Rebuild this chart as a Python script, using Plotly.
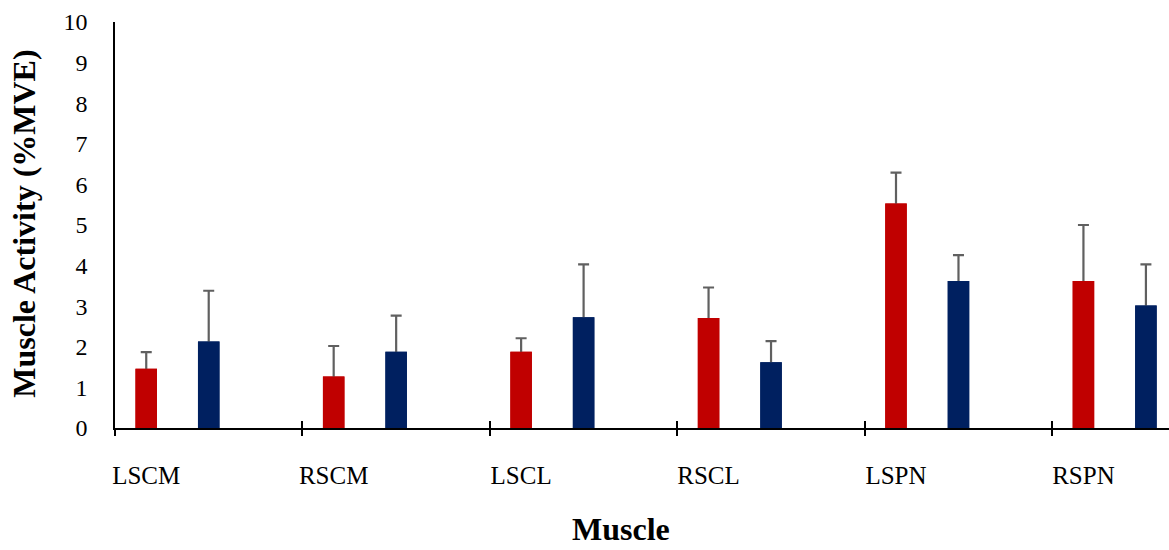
import plotly.graph_objects as go

# Muscle activity (%MVE) per muscle, two conditions, mean + SD
muscles = ["LSCM", "RSCM", "LSCL", "RSCL", "LSPN", "RSPN"]
red_mean = [1.46, 1.27, 1.88, 2.71, 5.53, 3.62]
red_sd = [0.41, 0.75, 0.33, 0.75, 0.76, 1.38]
blue_mean = [2.13, 1.88, 2.73, 1.62, 3.62, 3.02]
blue_sd = [1.25, 0.89, 1.30, 0.52, 0.64, 1.01]
y_ticks = list(range(0, 11))

RED = "#C00000"
BLUE = "#002060"
ERR = "#606060"
FONT = "Liberation Serif, Times New Roman, serif"

W, H = 1169, 550
ML, MR, MT, MB = 115, 0, 22, 121.5
slot_px = 187.44                      # width of one muscle slot on the axis
x_max = (W - ML - MR) / slot_px       # axis shows a bit more than 5.5 slots
bar_w = 21.5 / slot_px

idx = list(range(len(muscles)))
red_x = [i + 1 / 6 for i in idx]
blue_x = [i + 1 / 2 for i in idx]
bounds = list(range(len(muscles) + 1))

fig = go.Figure()


def add_series(xs, ys, sd, color):
    # bar with symmetric SD whisker
    fig.add_trace(go.Bar(
        x=xs, y=ys, width=bar_w, marker=dict(color=color, line=dict(width=0)),
        error_y=dict(type="data", array=sd, symmetric=True, color=ERR,
                     thickness=2.2, width=5.5),
        showlegend=False, hoverinfo="skip"))


def cover_series(xs, ys, color):
    # same bar redrawn on top so only the upper whisker remains visible
    fig.add_trace(go.Bar(
        x=xs, y=ys, width=bar_w, marker=dict(color=color, line=dict(width=0)),
        showlegend=False, hoverinfo="skip"))


add_series(red_x, red_mean, red_sd, RED)
add_series(blue_x, blue_mean, blue_sd, BLUE)
cover_series(red_x, red_mean, RED)
cover_series(blue_x, blue_mean, BLUE)

axis_common = dict(range=[0, x_max], showgrid=False, zeroline=False, fixedrange=True)

fig.update_layout(
    width=W, height=H,
    margin=dict(l=ML, r=MR, t=MT, b=MB, pad=0),
    paper_bgcolor="white", plot_bgcolor="white",
    barmode="overlay",
    font=dict(family=FONT, color="black"),
    xaxis=dict(
        **axis_common,
        tickmode="array", tickvals=red_x, ticktext=muscles,
        ticks="", ticklabelstandoff=24,
        tickfont=dict(family=FONT, size=25, color="black"),
        showline=True, linecolor="black", linewidth=1.5,
    ),
    xaxis2=dict(
        **axis_common, overlaying="x", anchor="y", side="bottom",
        tickmode="array", tickvals=bounds, showticklabels=False,
        ticks="outside", ticklen=7, tickwidth=1.5, tickcolor="black",
        showline=False,
    ),
    xaxis3=dict(
        **axis_common, overlaying="x", anchor="y", side="bottom",
        tickmode="array", tickvals=bounds, showticklabels=False,
        ticks="inside", ticklen=7, tickwidth=1.5, tickcolor="black",
        showline=False,
    ),
    yaxis=dict(
        range=[0, 10], tickmode="array", tickvals=y_ticks,
        ticks="", ticklabelstandoff=21,
        tickfont=dict(family=FONT, size=24, color="black"),
        showgrid=False, zeroline=False, showline=True,
        linecolor="black", linewidth=1.5, fixedrange=True,
    ),
)

# invisible traces so the tick-only axes are drawn
for ax in ("x2", "x3"):
    fig.add_trace(go.Scatter(x=[0], y=[0], xaxis=ax, yaxis="y", mode="markers",
                             marker=dict(opacity=0), showlegend=False, hoverinfo="skip"))

plot_w = W - ML - MR
plot_h = H - MT - MB

fig.add_annotation(
    text="<b>Muscle Activity (%MVE)</b>", textangle=-90,
    xref="paper", yref="paper",
    x=(24 - ML) / plot_w, y=(H - MB - 224) / plot_h,
    xanchor="center", yanchor="middle", showarrow=False,
    font=dict(family=FONT, size=32, color="black"),
)
fig.add_annotation(
    text="<b>Muscle</b>",
    xref="paper", yref="paper",
    x=(621 - ML) / plot_w, y=(H - MB - H + 1) / plot_h,
    xanchor="center", yanchor="bottom", showarrow=False,
    borderpad=0,
    font=dict(family=FONT, size=32, color="black"),
)

fig.write_html("out.html")
